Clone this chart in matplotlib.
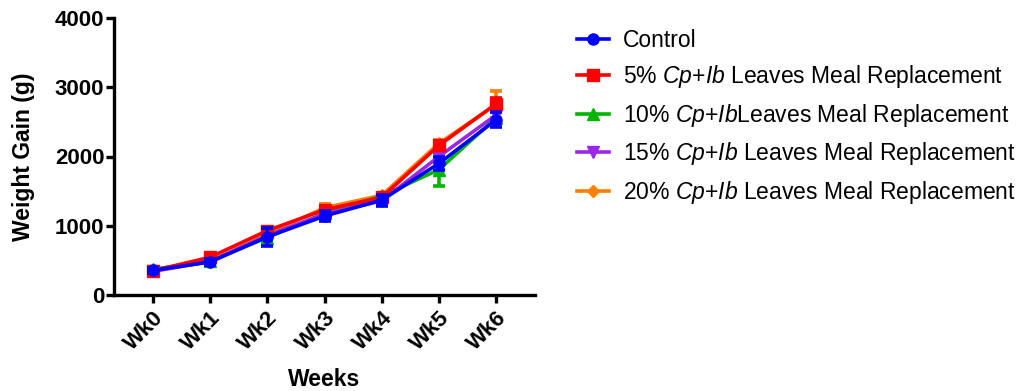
import matplotlib
matplotlib.use("Agg")
import matplotlib.pyplot as plt
from matplotlib.lines import Line2D
import numpy as np

plt.rcParams['font.family'] = ['Liberation Sans', 'DejaVu Sans']
plt.rcParams['mathtext.fontset'] = 'custom'
plt.rcParams['mathtext.rm'] = 'Liberation Sans'
plt.rcParams['mathtext.it'] = 'Liberation Sans:italic'
plt.rcParams['mathtext.bf'] = 'Liberation Sans:bold'

weeks = ["Wk0", "Wk1", "Wk2", "Wk3", "Wk4", "Wk5", "Wk6"]

series_names = [
    "Control",
    "5% $\\mathit{Cp{+}Ib}$ Leaves Meal Replacement",
    "10% $\\mathit{Cp{+}Ib}$Leaves Meal Replacement",
    "15% $\\mathit{Cp{+}Ib}$ Leaves Meal Replacement",
    "20% $\\mathit{Cp{+}Ib}$ Leaves Meal Replacement",
]
control = [355, 477, 840, 1140, 1370, 1900, 2530]
pct5 = [350, 545, 930, 1230, 1410, 2160, 2760]
pct10 = [370, 490, 830, 1180, 1430, 1810, 2560]
pct15 = [340, 485, 860, 1170, 1360, 2000, 2600]
pct20 = [355, 480, 880, 1260, 1440, 2190, 2750]

control_err = [40, 40, 130, 70, 80, 90, 110]
pct5_err = [40, 30, 50, 50, 50, 50, 80]
pct10_err = [30, 30, 60, 50, 40, 240, 80]
pct15_err = [30, 30, 50, 40, 40, 60, 80]
pct20_err = [30, 30, 50, 50, 40, 50, 200]

colors = ["#0000FF", "#FF0000", "#00B400", "#9B26E6", "#FF8000"]
markers = ["o", "s", "^", "v", "D"]
msizes = [8, 8, 8, 8, 6]
zorders = [10, 8, 6, 7, 5]

values = [control, pct5, pct10, pct15, pct20]
errs = [control_err, pct5_err, pct10_err, pct15_err, pct20_err]

fig = plt.figure(figsize=(10.16, 3.91), dpi=100)
ax = fig.add_axes([114/1016, 1-295/391, (535-114)/1016, (295-18)/391])

x = np.arange(len(weeks))
handles = []
for name, v, e, c, m, ms, z in zip(series_names, values, errs, colors, markers, msizes, zorders):
    ax.errorbar(x, v, yerr=e, color=c, marker=m, markersize=ms, linewidth=2.6,
                elinewidth=2.6, capsize=4.5, capthick=2.6, zorder=z, clip_on=False)
    handles.append(Line2D([], [], color=c, marker=m, markersize=ms, linewidth=2.6))

ax.set_xlim(-0.68, 6.68)
ax.set_ylim(0, 4000)
ax.set_yticks([0, 1000, 2000, 3000, 4000])
ax.set_xticks(x)
ax.set_xticklabels(weeks, rotation=45, ha='right', rotation_mode='anchor',
                   fontsize=16, fontweight='bold')
for lbl in ax.get_yticklabels():
    lbl.set_fontsize(16)
    lbl.set_fontweight('bold')

for s in ['top', 'right']:
    ax.spines[s].set_visible(False)
for s in ['left', 'bottom']:
    ax.spines[s].set_linewidth(2.4)
ax.tick_params(axis='both', width=2.4, length=6, direction='out')
ax.tick_params(axis='x', pad=3)
ax.tick_params(axis='y', pad=1)

ax.set_ylabel("Weight Gain (g)", fontsize=16.5, fontweight='bold', labelpad=14)
ax.set_xlabel("Weeks", fontsize=16.5, fontweight='bold', labelpad=10)

leg = fig.legend(handles=handles, labels=series_names, loc='upper left',
                 bbox_to_anchor=(577/1016, 1-29/391), frameon=False,
                 fontsize=16.5, handlelength=1.4, handletextpad=0.6,
                 labelspacing=0.5, borderaxespad=0, borderpad=0)

fig.savefig("out.png", dpi=100)
